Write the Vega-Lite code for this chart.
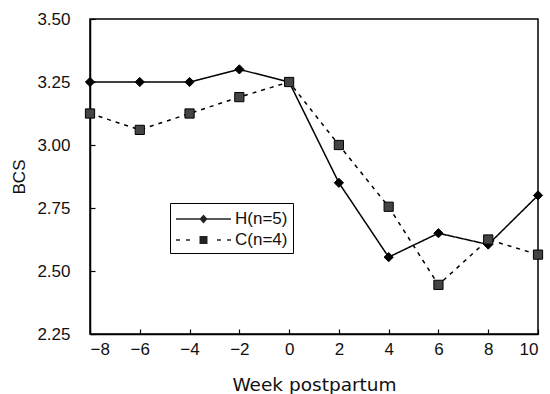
{
  "$schema": "https://vega.github.io/schema/vega-lite/v6.json",
  "width": 448,
  "height": 315,
  "autosize": "none",
  "padding": {"left": 90, "top": 19, "right": 12, "bottom": 60},
  "background": "white",
  "config": {
    "view": {"stroke": "black", "strokeWidth": 1.5},
    "font": "Liberation Sans",
    "axis": {
      "domainColor": "black",
      "domainWidth": 1.5,
      "tickColor": "black",
      "tickWidth": 1.2,
      "grid": false,
      "labelColor": "#111",
      "titleColor": "#111",
      "labelFont": "Liberation Sans",
      "titleFont": "Liberation Sans",
      "labelFontSize": 17,
      "titleFontSize": 17,
      "titleFontWeight": "normal"
    }
  },
  "data": {
    "values": [
      {"week": -8, "bcs": 3.25, "series": "H(n=5)"},
      {"week": -6, "bcs": 3.25, "series": "H(n=5)"},
      {"week": -4, "bcs": 3.25, "series": "H(n=5)"},
      {"week": -2, "bcs": 3.30, "series": "H(n=5)"},
      {"week": 0, "bcs": 3.25, "series": "H(n=5)"},
      {"week": 2, "bcs": 2.85, "series": "H(n=5)"},
      {"week": 4, "bcs": 2.555, "series": "H(n=5)"},
      {"week": 6, "bcs": 2.65, "series": "H(n=5)"},
      {"week": 8, "bcs": 2.605, "series": "H(n=5)"},
      {"week": 10, "bcs": 2.80, "series": "H(n=5)"},
      {"week": -8, "bcs": 3.125, "series": "C(n=4)"},
      {"week": -6, "bcs": 3.06, "series": "C(n=4)"},
      {"week": -4, "bcs": 3.125, "series": "C(n=4)"},
      {"week": -2, "bcs": 3.19, "series": "C(n=4)"},
      {"week": 0, "bcs": 3.25, "series": "C(n=4)"},
      {"week": 2, "bcs": 3.00, "series": "C(n=4)"},
      {"week": 4, "bcs": 2.755, "series": "C(n=4)"},
      {"week": 6, "bcs": 2.445, "series": "C(n=4)"},
      {"week": 8, "bcs": 2.625, "series": "C(n=4)"},
      {"week": 10, "bcs": 2.565, "series": "C(n=4)"}
    ]
  },
  "encoding": {
    "x": {
      "field": "week",
      "type": "quantitative",
      "scale": {"domain": [-8, 10], "nice": false, "zero": false},
      "axis": {
        "values": [-8, -6, -4, -2, 0, 2, 4, 6, 8, 10],
        "title": "Week  postpartum",
        "tickSize": -5,
        "labelPadding": 12,
        "titlePadding": 18,
        "titleFont": "DejaVu Sans",
        "titleFontSize": 18.5
      }
    },
    "y": {
      "field": "bcs",
      "type": "quantitative",
      "scale": {"domain": [2.25, 3.5], "nice": false, "zero": false},
      "axis": {
        "values": [2.25, 2.5, 2.75, 3.0, 3.25, 3.5],
        "format": ".2f",
        "title": "BCS",
        "tickSize": -5,
        "labelPadding": 25,
        "titlePadding": 8
      }
    }
  },
  "resolve": {"scale": {"shape": "independent"}, "legend": {"shape": "independent"}},
  "layer": [
    {
      "mark": {"type": "line", "color": "black", "strokeWidth": 1.5},
      "encoding": {
        "strokeDash": {
          "field": "series",
          "type": "nominal",
          "scale": {"domain": ["C(n=4)", "H(n=5)"], "range": [[4, 5], [1, 0]]},
          "legend": null
        }
      }
    },
    {
      "mark": {"type": "point", "filled": true, "opacity": 1, "stroke": "black", "strokeWidth": 1, "size": 85},
      "encoding": {
        "fill": {
          "field": "series",
          "type": "nominal",
          "scale": {"domain": ["C(n=4)", "H(n=5)"], "range": ["#444444", "black"]},
          "legend": null
        },
        "shape": {
          "field": "series",
          "type": "nominal",
          "scale": {"domain": ["C(n=4)", "H(n=5)"], "range": ["square", "diamond"]},
          "legend": null
        }
      }
    },
    {
      "transform": [{"filter": "false"}],
      "mark": {"type": "point", "filled": true, "fill": "#222222", "stroke": "black", "strokeWidth": 1.4, "opacity": 1},
      "encoding": {
        "shape": {
          "field": "series",
          "type": "nominal",
          "scale": {
            "domain": ["H(n=5)", "C(n=4)"],
            "range": [
              "M-1,-0.07H4.5V0.07H-1ZM1.75,-0.45L2.15,0L1.75,0.45L1.35,0Z",
              "M-1,-0.07H-0.6V0.07H-1ZM0,-0.07H0.4V0.07H0ZM1.35,-0.4H2.15V0.4H1.35ZM3.1,-0.07H3.5V0.07H3.1ZM4.1,-0.07H4.5V0.07H4.1Z"
            ]
          },
          "legend": {
            "title": null,
            "orient": "none",
            "legendX": 80,
            "legendY": 184,
            "strokeColor": "black",
            "padding": 5,
            "labelFontSize": 17,
            "labelColor": "#111",
            "labelOffset": 38,
            "symbolSize": 400,
            "symbolStrokeWidth": 1.4,
            "symbolStrokeColor": "black",
            "symbolFillColor": "#222222",
            "rowPadding": 2,
            "encode": {
              "symbols": {
                "stroke": {"value": "black"},
                "fill": {"value": "#222222"},
                "strokeWidth": {"value": 1.4},
                "opacity": {"value": 1}
              }
            }
          }
        }
      }
    }
  ]
}
